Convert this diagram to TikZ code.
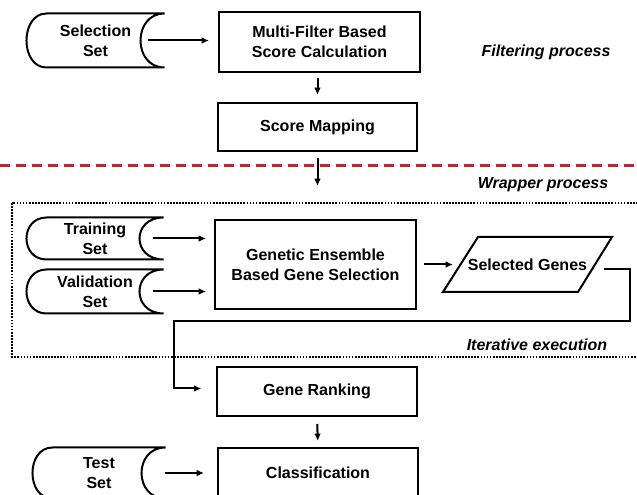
\documentclass[tikz,border=0pt]{standalone}
\usepackage{fontspec}
\setmainfont{Liberation Sans}
\usetikzlibrary{arrows.meta,calc}

\definecolor{cutred}{RGB}{196,34,42}

\tikzset{every picture/.style={line width=0.75pt}}
\tikzset{
  txt/.style={font=\bfseries\fontsize{12}{15}\selectfont, align=center, inner sep=0pt},
  box/.style={txt, draw, line width=1.5pt},
  datastore/.style={txt},
  note/.style={font=\bfseries\itshape\fontsize{12}{15}\selectfont, inner sep=0pt},
  flow/.style={line width=1.5pt, -{Latex[length=5.5pt,width=5pt]}},
  outline/.style={line width=1.5pt},
}

\begin{document}
\begin{tikzpicture}[x=0.75pt,y=0.75pt,yscale=-1,xscale=1]
\useasboundingbox (0,0) rectangle (637,495);
\clip (0,0) rectangle (637,495);

%Shape: Rectangle [filter part]
\node[box, minimum width=150.75pt, minimum height=45pt] (mfs) at (319.5,42) {Multi-Filter Based\\Score Calculation};
\node[box, minimum width=149.25pt, minimum height=36pt] (map) at (317.5,127) {Score Mapping};
%Shape: Rectangle [wrapper part]
\node[box, minimum width=150.75pt, minimum height=66.75pt] (gen) at (315.5,264.5) {Genetic Ensemble\\Based Gene Selection};
\node[box, minimum width=150pt, minimum height=36.75pt] (rank) at (317,391.5) {Gene Ranking};
\node[box, minimum width=150pt, minimum height=37.5pt] (cls) at (318,473) {Classification};

%Shape: Parallelogram
\node[txt] (selg) at (527.5,264.5) {Selected Genes};
\draw[outline] ($(selg)+(-49.5,-27.5)$) -- ($(selg)+(84.5,-27.5)$) -- ($(selg)+(50.5,27.5)$) -- ($(selg)+(-84.5,27.5)$) -- cycle;

%Shape: Stored data
\node[datastore, minimum width=102.75pt, minimum height=39.75pt] (sel) at (95.5,40.5) {Selection\\Set};
\node[datastore, minimum width=102pt, minimum height=30.75pt] (train) at (95,238.5) {Training\\Set};
\node[datastore, minimum width=102pt, minimum height=32.25pt] (valid) at (95,291.5) {Validation\\Set};
\node[datastore, minimum width=99pt, minimum height=37.5pt] (test) at (99,473) {Test\\Set};
\foreach \n in {sel,train,valid,test}
  \draw[outline] ($(\n.north west)+(20,0)$) -- (\n.north east)
    .. controls ($(\n.north east)+(-32,0)$) and ($(\n.south east)+(-32,0)$) .. (\n.south east)
    -- ($(\n.south west)+(20,0)$)
    .. controls ($(\n.south west)+(-6.7,0)$) and ($(\n.north west)+(-6.7,0)$) .. cycle;

%Straight Lines [separators]
\draw[cutred, line width=2.25pt, dash pattern=on 7.5pt off 4.5pt] (0,166) -- (637,166);
\draw[line width=1.3pt, dash pattern=on 1.3pt off 1pt] (12,203) rectangle (660,357);

% Text Node
\node[note] (filt) at (546,52) {Filtering process};
% Text Node
\node[note] (wrap) at (543,185) {Wrapper process};
% Text Node
\node[note] (iter) at (537,345) {Iterative execution};

%Arrows
\coordinate (wrapin) at (317.5,186);
\coordinate (loopout) at (604,269.5);
\coordinate (loopright) at (630,321);
\coordinate (loopleft) at (174,321);
\draw[flow, shorten >=6.75pt] ($(sel.east)+(-17,0)$) -- (mfs.west |- sel.east);
\draw[flow, shorten <=3.75pt, shorten >=5.25pt] (map.north |- mfs.south) -- (map.north);
\draw[flow, shorten <=4.5pt] (map.south) -- (wrapin);
\draw[flow, shorten >=6pt] ($(train.east)+(-11,0)$) -- (gen.west |- train.east);
\draw[flow, shorten >=6pt] ($(valid.east)+(-11,0)$) -- (gen.west |- valid.east);
\draw[flow, shorten <=5.25pt] (gen.east) -- ($(selg)+(-74.5,0)$);
\draw[flow, shorten >=11pt] (loopout) -| (loopright) -- (loopleft) |- ($(rank.west)+(0,-3)$);
\draw[flow, shorten <=5.25pt, shorten >=4.5pt] (rank.south) -- (cls.north);
\draw[flow, shorten >=9.75pt] ($(test.east)+(-1,0)$) -- (cls.west |- test.east);

\end{tikzpicture}
\end{document}
